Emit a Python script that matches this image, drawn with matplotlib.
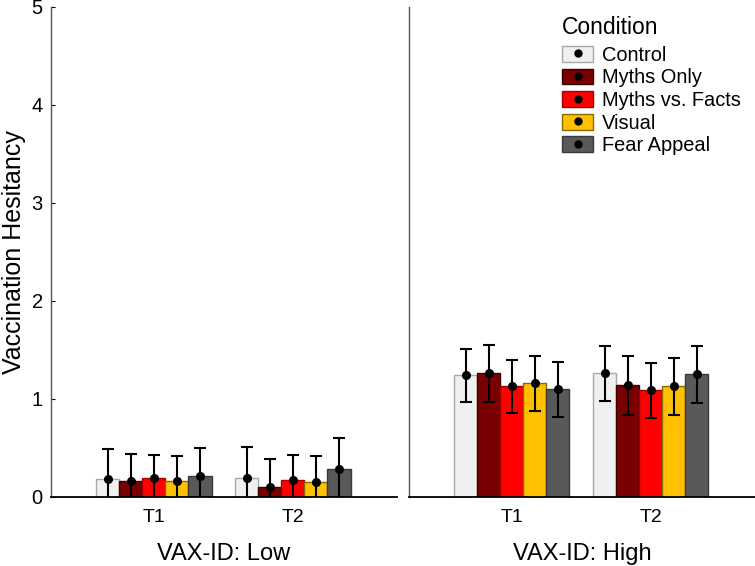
import numpy as np
import matplotlib
matplotlib.use("Agg")
import matplotlib.pyplot as plt
from matplotlib.patches import Patch
from matplotlib.lines import Line2D

plt.rcParams['font.family'] = ['Liberation Sans', 'DejaVu Sans']

conditions = ["Control", "Myths Only", "Myths vs. Facts", "Visual", "Fear Appeal"]
colors = ["#f0f0f0", "#780000", "#ff0000", "#ffc000", "#595959"]
edges = ["#a8a8a8", "#3a0000", "#a00000", "#8a6a00", "#3a3a3a"]
times = ["T1", "T2"]

# means [time][condition]
low_mean = [[0.18, 0.16, 0.19, 0.16, 0.21],
            [0.19, 0.10, 0.17, 0.15, 0.29]]
low_err = [[0.31, 0.28, 0.24, 0.26, 0.29],
           [0.32, 0.29, 0.26, 0.27, 0.31]]
high_mean = [[1.24, 1.26, 1.13, 1.16, 1.10],
             [1.26, 1.14, 1.09, 1.13, 1.25]]
high_err = [[0.27, 0.29, 0.27, 0.28, 0.28],
            [0.28, 0.30, 0.28, 0.29, 0.29]]

fig = plt.figure(figsize=(7.55, 5.66), dpi=100)
ax1 = fig.add_axes([0.0675, 0.122, 0.4585, 0.866])
ax2 = fig.add_axes([0.5415, 0.122, 0.4585, 0.866])

w = 0.166
x = np.arange(1, len(times) + 1)

def draw(ax, means, errs, title):
    means = np.array(means)
    errs = np.array(errs)
    for j in range(len(conditions)):
        xs = x + (j - 2) * w
        ax.bar(xs, means[:, j], width=w, color=colors[j], edgecolor=edges[j],
               linewidth=1.0, zorder=2)
        ax.errorbar(xs, means[:, j], yerr=errs[:, j], fmt='o', color='black',
                    ms=5.5, elinewidth=1.5, capsize=4, capthick=1.5, zorder=3)
    ax.set_xlim(0.26, 2.75)
    ax.set_ylim(0, 5)
    ax.set_xticks(x)
    ax.set_xticklabels(times, fontsize=14)
    ax.tick_params(axis='x', length=0, pad=9)
    ax.set_xlabel(title, fontsize=17, labelpad=12)
    for s in ['top', 'right']:
        ax.spines[s].set_visible(False)
    ax.spines['bottom'].set_color('black')
    ax.spines['bottom'].set_linewidth(1.3)
    ax.spines['left'].set_color('#555555')
    ax.spines['left'].set_linewidth(1.0)

draw(ax1, low_mean, low_err, "VAX-ID: Low")
draw(ax2, high_mean, high_err, "VAX-ID: High")

ax1.set_yticks([0, 1, 2, 3, 4, 5])
ax1.tick_params(axis='y', direction='in', length=3, labelsize=14.5, pad=6)
ax1.set_ylabel("Vaccination Hesitancy", fontsize=18, labelpad=4)
ax2.set_yticks([])

handles = [(Patch(facecolor=colors[j], edgecolor=edges[j]),
            Line2D([], [], marker='o', color='black', ls='none', ms=5))
           for j in range(len(conditions))]
leg = ax2.legend(handles, conditions, title="Condition", loc='upper right',
                 bbox_to_anchor=(1.0, 1.01), frameon=False, fontsize=14.4,
                 title_fontsize=16.5, handlelength=1.55, handleheight=0.85,
                 labelspacing=0.18, handletextpad=0.45, borderpad=0.2)
leg._legend_box.align = "left"
leg._legend_box.sep = 5

fig.savefig("out.png", dpi=100)
